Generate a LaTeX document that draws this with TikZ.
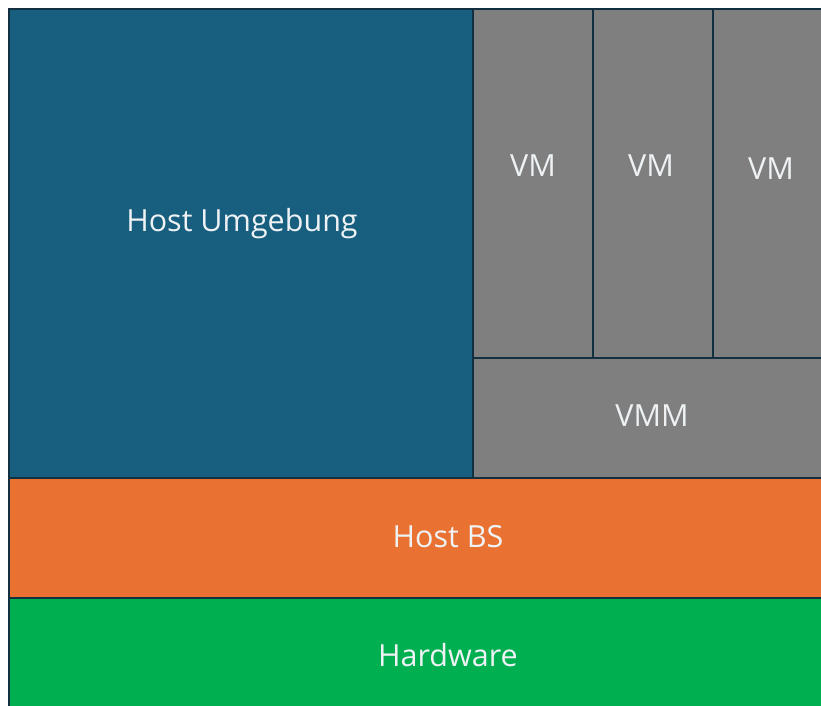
\documentclass[tikz,border=0pt]{standalone}
\usepackage{fontspec}
\setmainfont{Open Sans}
\definecolor{hostblue}{HTML}{175E7F}
\definecolor{vmgray}{HTML}{7F7F7F}
\definecolor{bsorange}{HTML}{E97132}
\definecolor{hwgreen}{HTML}{00B050}
\definecolor{edgecol}{HTML}{12303F}
\definecolor{txtcol}{HTML}{EEF2F4}
\begin{document}
\begin{tikzpicture}[x=1pt,y=-1pt,
  blk/.style={draw=edgecol,line width=2pt,inner sep=0pt,outer sep=0pt},
  lbl/.style={text=txtcol,font=\fontsize{30.5}{34}\selectfont,inner sep=0pt,anchor=center}]
\useasboundingbox (0,0) rectangle (821,706);
\fill[white] (0,0) rectangle (821,706);
\clip (0,0) rectangle (821,706);
\path[blk,fill=hostblue] (9,9) rectangle (473,478);
\path[blk,fill=vmgray] (473,9) rectangle (593,358);
\path[blk,fill=vmgray] (593,9) rectangle (713,358);
\path[blk,fill=vmgray] (713,9) rectangle (829,358);
\path[blk,fill=vmgray] (473,358) rectangle (887,478);
\path[blk,fill=bsorange] (9,478) rectangle (887,598);
\path[blk,fill=hwgreen] (9,598) rectangle (887,716);
\node[lbl] (host) at (242,224) {Host Umgebung};
\node[lbl] (vm1) at (533,166) {VM};
\node[lbl] (vm2) at (651,166) {VM};
\node[lbl] (vm3) at (771,169) {VM};
\node[lbl] (vmm) at (652,416) {VMM};
\node[lbl] (bs) at (448,537) {Host BS};
\node[lbl] (hw) at (448,655) {Hardware};
\end{tikzpicture}
\end{document}
